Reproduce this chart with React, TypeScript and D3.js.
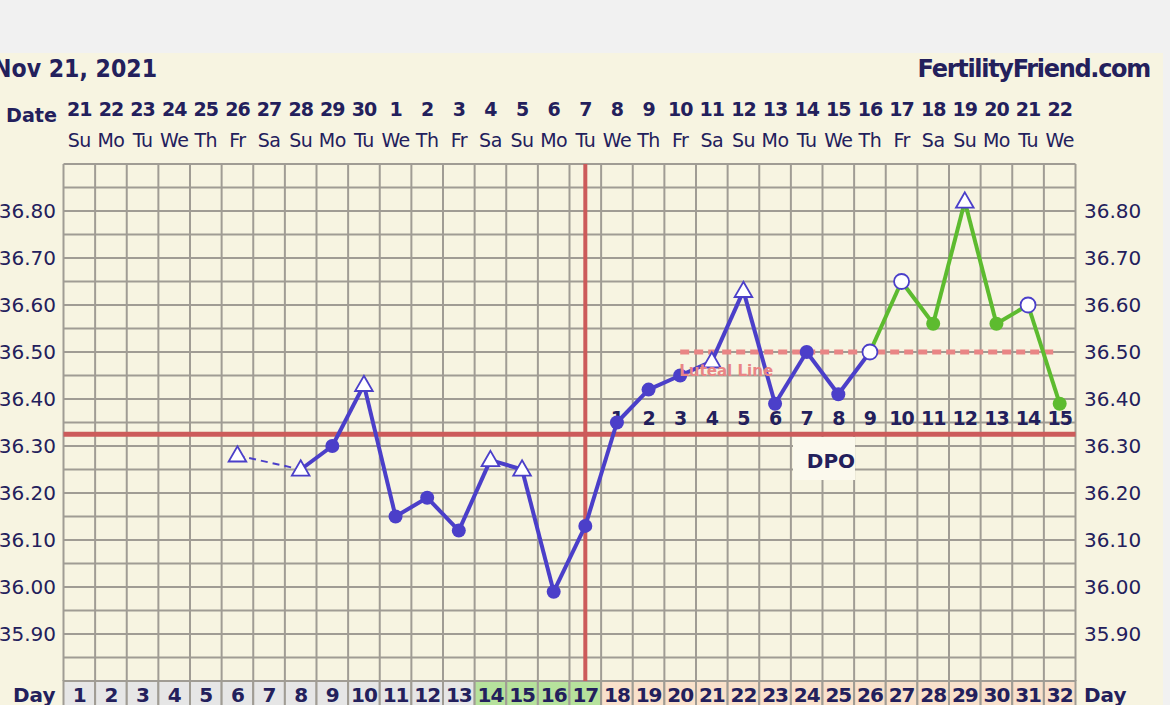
import React from "react";
import * as d3 from "d3";

const days = d3.range(1, 33);
const dateNums = ["21","22","23","24","25","26","27","28","29","30","1","2","3","4","5","6","7","8","9","10","11","12","13","14","15","16","17","18","19","20","21","22"];
const weekdays = ["Su","Mo","Tu","We","Th","Fr","Sa"];
const tempTicks = [36.8, 36.7, 36.6, 36.5, 36.4, 36.3, 36.2, 36.1, 36.0, 35.9];

// temperature readings: day, value, marker type
const tempDays = [6, 8, 9, 10, 11, 12, 13, 14, 15, 16, 17, 18, 19, 20, 21, 22, 23, 24, 25, 26, 27, 28, 29, 30, 31, 32];
const tempValues = [36.28, 36.25, 36.30, 36.43, 36.15, 36.19, 36.12, 36.27, 36.25, 35.99, 36.13, 36.35, 36.42, 36.45, 36.48, 36.63, 36.39, 36.50, 36.41, 36.50, 36.65, 36.56, 36.82, 36.56, 36.60, 36.39];
const tempMarkers = ["tri","tri","dot","tri","dot","dot","dot","tri","tri","dot","dot","dot","dot","dot","tri","tri","dot","dot","dot","open","open","dot","tri","dot","open","dot"];

const coverline = 36.325;
const ovulationDay = 17;
const lutealValue = 36.5;
const lutealStart = 20;
const lutealEnd = 32;
const greenFromDay = 26;
const dpoStart = 18;
const fertileDays = [14, 15, 16, 17];

const NAVY = "#23205c";
const BLUE = "#4b3fc9";
const GREEN = "#5dbb2f";
const RED = "#cc5b5b";
const PINK = "#e98585";
const GRID = "#a09c94";
const FONT = "'DejaVu Sans', Verdana, sans-serif";

export default function App() {
  const W = 1170, H = 705;
  const x = d3.scaleLinear().domain([0.5, 32.5]).range([63.5, 1075.5]);
  const y = d3.scaleLinear().domain([35.8, 36.9]).range([681, 164]);
  const colW = x(2) - x(1);
  const hLines = d3.range(0, 23).map((i) => 35.8 + i * 0.05);
  const pts = tempDays.map((d, i) => ({ d, v: tempValues[i], m: tempMarkers[i] }));
  const line = d3.line<any>().x((p) => x(p.d)).y((p) => y(p.v));
  const segs: any[] = [];
  for (let i = 0; i < pts.length - 1; i++) {
    const a = pts[i], b = pts[i + 1];
    const color = a.d >= greenFromDay ? GREEN : BLUE;
    const dashed = b.d - a.d > 1;
    segs.push({ a, b, color, dashed });
  }
  const dotColor = (p: any) => (p.d > greenFromDay ? GREEN : BLUE);
  const tri = d3.symbol().type(d3.symbolTriangle).size(135);

  return (
    <svg width={W} height={H} style={{ position: "absolute", left: 0, top: 0, display: "block" }} fontFamily={FONT}>
      <rect x={0} y={0} width={W} height={H} fill="#f1f1f1" />
      <rect x={0} y={53} width={1163} height={H - 53} fill="#f7f4e1" />
      <text x={-7} y={77} fontSize={24} fontWeight="bold" fill={NAVY} textLength={164} lengthAdjust="spacingAndGlyphs">Nov 21, 2021</text>
      <text x={1150} y={77} fontSize={24} fontWeight="bold" fill={NAVY} textAnchor="end" letterSpacing={-1.3}>FertilityFriend.com</text>
      <text x={6} y={122} fontSize={20} fontWeight="bold" fill={NAVY} textLength={51} lengthAdjust="spacingAndGlyphs">Date</text>
      {days.map((d, i) => (
        <g key={"dt" + d}>
          <text x={x(d)} y={116} fontSize={19} fontWeight="bold" fill={NAVY} textAnchor="middle" letterSpacing={-1}>{dateNums[i]}</text>
          <text x={x(d)} y={147} fontSize={19} fill={NAVY} textAnchor="middle" letterSpacing={-0.5}>{weekdays[i % 7]}</text>
        </g>
      ))}
      {/* grid */}
      {hLines.map((v, i) => (
        <line key={"h" + i} x1={x(0.5)} x2={x(32.5)} y1={y(v)} y2={y(v)} stroke={GRID} strokeWidth={2} />
      ))}
      {d3.range(0, 33).map((i) => (
        <line key={"v" + i} x1={x(i + 0.5)} x2={x(i + 0.5)} y1={y(36.9)} y2={y(35.8)} stroke={GRID} strokeWidth={2} />
      ))}
      {/* day row */}
      {days.map((d) => (
        <g key={"day" + d}>
          <rect x={x(d - 0.5)} y={681} width={colW} height={30}
            fill={fertileDays.includes(d) ? "#b6e29c" : d >= dpoStart ? "#f9e1cb" : "#e6e6e6"} stroke={GRID} strokeWidth={2} />
          <text x={x(d)} y={702} fontSize={20} fontWeight="bold" fill={NAVY} textAnchor="middle" letterSpacing={-1}>{d}</text>
        </g>
      ))}
      <text x={13} y={702} fontSize={20} fontWeight="bold" fill={NAVY}>Day</text>
      <text x={1084} y={702} fontSize={20} fontWeight="bold" fill={NAVY}>Day</text>
      {/* axes labels */}
      {tempTicks.map((t) => (
        <g key={"t" + t}>
          <text x={56} y={y(t) + 7} fontSize={20} fill={NAVY} textAnchor="end">{t.toFixed(2)}</text>
          <text x={1084} y={y(t) + 7} fontSize={20} fill={NAVY}>{t.toFixed(2)}</text>
        </g>
      ))}
      {/* DPO box */}
      <rect x={793} y={437} width={62} height={43} fill="#fbf9ed" />
      <text x={831} y={468} fontSize={20} fontWeight="bold" fill={NAVY} textAnchor="middle">DPO</text>
      {/* coverline and ovulation */}
      <line x1={x(0.5)} x2={x(32.5)} y1={y(coverline)} y2={y(coverline)} stroke={RED} strokeWidth={5} />
      <line x1={x(ovulationDay)} x2={x(ovulationDay)} y1={y(36.9)} y2={y(35.8)} stroke={RED} strokeWidth={4} />
      {/* luteal line */}
      <line x1={x(lutealStart)} x2={x(lutealEnd) - 5} y1={y(lutealValue)} y2={y(lutealValue)} stroke={PINK} strokeWidth={5} strokeDasharray="9,5" />
      {/* DPO numbers */}
      {days.filter((d) => d >= dpoStart).map((d) => (
        <text key={"dpo" + d} x={x(d)} y={425} fontSize={19} fontWeight="bold" fill={NAVY} textAnchor="middle" letterSpacing={-1}>{d - dpoStart + 1}</text>
      ))}
      {/* temperature line */}
      {segs.map((s, i) => (
        <path key={"s" + i} d={line([s.a, s.b]) || ""} stroke={s.color} strokeWidth={s.dashed ? 2 : 4} fill="none"
          strokeDasharray={s.dashed ? "7,5" : undefined} strokeLinejoin="round" />
      ))}
      {pts.map((p, i) => {
        if (p.m === "tri")
          return <path key={"m" + i} d={tri() || ""} transform={`translate(${x(p.d)},${y(p.v) + 1})`} fill="#ffffff" stroke={BLUE} strokeWidth={1.8} />;
        if (p.m === "open")
          return <circle key={"m" + i} cx={x(p.d)} cy={y(p.v)} r={7.5} fill="#ffffff" stroke={BLUE} strokeWidth={1.8} />;
        return <circle key={"m" + i} cx={x(p.d)} cy={y(p.v)} r={7} fill={dotColor(p)} />;
      })}
      <text x={x(lutealStart) - 1} y={376} fontSize={16} fontWeight="bold" fill={PINK} textLength={94} lengthAdjust="spacingAndGlyphs">Luteal Line</text>
    </svg>
  );
}
